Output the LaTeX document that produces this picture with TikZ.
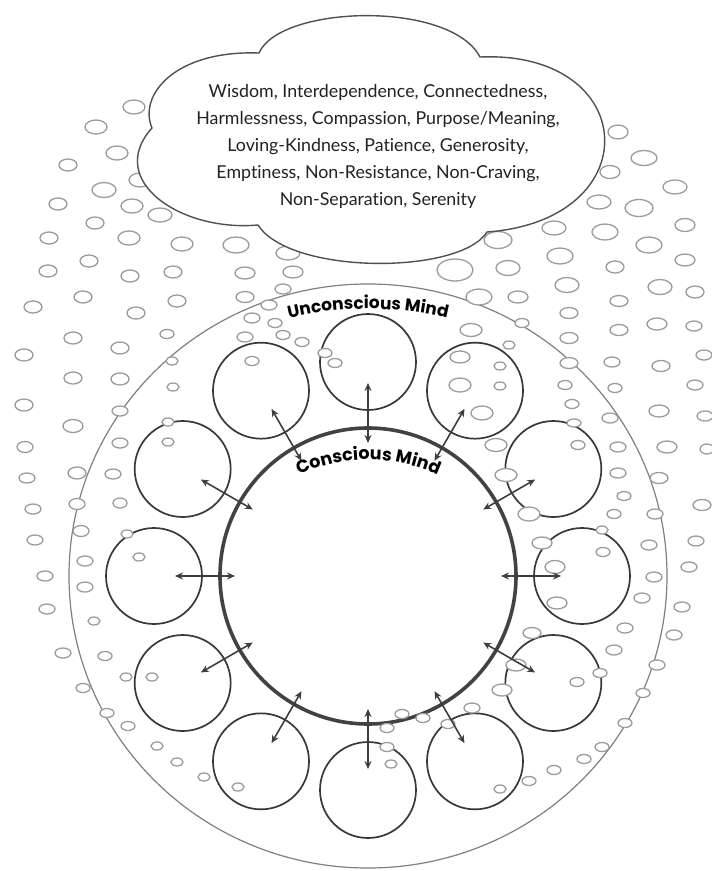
\documentclass[tikz,border=0pt]{standalone}
\usepackage{fontspec}
\setmainfont{Lato}[Ligatures=NoCommon]
\newfontfamily\labfont{Poppins}
\usetikzlibrary{arrows.meta,decorations.text,shapes.geometric}
\definecolor{bubc}{HTML}{9C9C9C}
\definecolor{outc}{HTML}{808080}
\definecolor{circc}{HTML}{383838}
\definecolor{innc}{HTML}{424242}
\definecolor{arrc}{HTML}{3E3E3E}
\definecolor{cloudc}{HTML}{505050}
\definecolor{txtc}{HTML}{222222}
\newcommand\labf{\labfont\bfseries\fontsize{17}{17}\selectfont}
\newcommand\labg{\labfont\bfseries\fontsize{17.5}{17.5}\selectfont}
\begin{document}
\begin{tikzpicture}[x=1pt,y=-1pt,
  bub/.style={draw=bubc, fill=white, line width=1.3pt},
  smallc/.style={circle, draw=circc, line width=1.7pt, minimum size=96pt, inner sep=0pt},
  innerc/.style={circle, draw=innc, line width=3.6pt, minimum size=296pt, inner sep=0pt},
  outerc/.style={ellipse, draw=outc, line width=1.2pt, minimum width=598pt, minimum height=584pt, inner sep=0pt},
  arr/.style={draw=arrc, line width=1.6pt, arrows={Stealth[length=8pt,width=7pt]-Stealth[length=8pt,width=7pt]}},
  cloud/.style={draw=cloudc, fill=white, line width=1.4pt}]
\fill[white] (0,0) rectangle (712,871);
\useasboundingbox (0,0) rectangle (712,871);
\coordinate (ctr) at (368,576);
\node[outerc] (outer) at (ctr) {};
\foreach \i in {0,...,11}
  \node[smallc] (c\i) at ([shift={(\i*30:214pt)}]ctr) {};
\node[innerc] (conscious) at (ctr) {};
% background bubbles
\foreach \x/\y/\w/\h in {
134/107/22/14, 96/127/22/14, 117/153/22/14, 68/165/18/12, 104/190/24/15,
58/204/18/12, 132/206/22/14, 95/223/18/12, 49/238/18/12, 129/238/22/14,
140/180/22/14, 160/215/24/14,
182/244/22/14, 236/245/26/16, 89/261/18/12, 48/271/18/12, 173/272/18/12,
130/276/18/12, 245/273/20/12, 293/272/20/12, 288/253/24/14, 83/297/18/12,
177/301/18/12, 33/307/18/12, 136/313/18/12, 245/297/18/11, 283/289/16/10,
269/305/16/10, 167/334/14/9, 73/338/18/12, 120/348/18/12, 24/355/18/12,
172/361/12/8, 252/318/16/10, 275/323/14/9, 245/337/16/10, 283/335/14/9,
302/342/14/9, 252/361/14/9, 325/353/14/9, 335/363/14/9, 73/378/18/12,
120/379/18/12, 173/387/12/8, 24/405/18/12, 73/426/20/13, 120/411/16/10,
168/422/12/8, 168/442/12/8, 25/447/16/11, 120/443/16/10, 27/478/16/10,
77/473/18/12, 113/474/16/10, 77/504/16/11, 120/503/14/10, 33/509/16/10,
81/531/16/11, 127/534/12/8, 35/540/16/10, 139/557/12/8, 85/561/16/10,
45/576/16/10, 85/587/16/10, 47/609/16/10, 94/621/12/8, 63/653/16/10,
105/656/14/9, 126/677/12/8, 152/677/12/8, 83/688/14/9, 107/713/14/9,
128/726/14/9, 157/746/12/8, 177/762/12/8, 204/777/12/8, 238/787/12/8,
618/132/20/14, 644/158/26/15, 610/172/20/13, 675/187/24/14, 599/202/24/14,
639/208/28/17, 554/228/24/14, 605/232/26/16, 685/225/20/13, 498/240/28/17,
649/245/26/16, 560/256/26/16, 685/260/20/12, 615/267/18/12, 508/268/24/15,
455/270/36/22, 567/285/24/15, 660/287/24/15, 479/297/26/16, 518/297/20/12,
619/301/18/11, 695/292/18/12, 569/313/18/11, 657/324/20/12, 694/326/16/10,
522/323/14/9, 619/330/18/11, 471/330/22/13, 509/345/12/8, 569/338/18/11,
704/355/16/10, 612/362/16/10, 500/366/12/8, 569/363/18/11, 661/366/18/11,
460/357/20/12, 565/385/14/9, 615/388/14/9, 695/385/16/10, 500/386/12/8,
460/385/22/14, 659/411/20/12, 705/416/16/10, 572/404/14/9, 482/413/22/14,
610/418/16/10, 574/423/14/8, 496/445/22/13, 578/445/14/9, 618/447/16/10,
667/447/20/12, 707/449/14/10, 506/475/22/13, 618/473/16/10, 659/478/18/11,
624/496/14/9, 529/514/22/14, 614/514/14/9, 655/514/16/10, 702/505/18/11,
602/530/12/8, 542/543/20/12, 603/552/14/9, 649/545/16/10, 696/541/16/10,
555/567/20/13, 654/577/16/10, 689/567/16/10, 642/598/16/10, 557/603/20/12,
682/607/16/10, 625/628/16/10, 532/633/18/11, 674/635/16/10, 614/650/16/10,
516/665/20/12, 657/665/16/10, 600/673/14/9, 577/682/14/9, 502/690/20/12,
643/693/14/9, 472/708/16/10, 448/724/14/9, 423/718/14/9, 402/714/14/9,
387/728/14/9, 387/747/14/9, 391/764/12/8, 500/789/12/8, 529/781/14/9,
554/770/14/9, 584/759/14/9, 602/747/14/9, 625/723/14/9}
  \draw[bub] (\x,\y) ellipse [x radius=\w/2, y radius=\h/2];
% arrows between the conscious mind and the surrounding circles
\foreach \i in {0,...,11} {
  \coordinate (p\i) at ([shift={(\i*30:133pt)}]ctr);
  \coordinate (q\i) at ([shift={(\i*30:193pt)}]ctr);
  \draw[arr] (p\i) -- (q\i);
}
% cloud
\draw[cloud] (152,128) .. controls (138,95) and (175,50) .. (259,53)
  .. controls (280,5) and (450,0) .. (480,57)
  .. controls (640,50) and (650,220) .. (487,232)
  .. controls (460,275) and (290,275) .. (258,225)
  .. controls (180,232) and (105,180) .. (152,128) -- cycle;
\node[align=center, text=txtc, font=\fontsize{17.8}{27}\selectfont] (values) at (378,146)
  {Wisdom, Interdependence, Connectedness,\\
   Harmlessness, Compassion, Purpose/Meaning,\\
   Loving-Kindness, Patience, Generosity,\\
   Emptiness, Non-Resistance, Non-Craving,\\
   Non-Separation, Serenity};
% curved labels
\path[decorate, decoration={text along path, text align=center,
  text={|\labf|Unconscious Mind}}]
  (39.1,539.3) arc[start angle=160, end angle=20, radius=350pt];
\path[decorate, decoration={text along path, text align=center,
  text={|\labg|Conscious Mind}}]
  (209.5,570.9) arc[start angle=160, end angle=20, radius=169pt];
\end{tikzpicture}
\end{document}
